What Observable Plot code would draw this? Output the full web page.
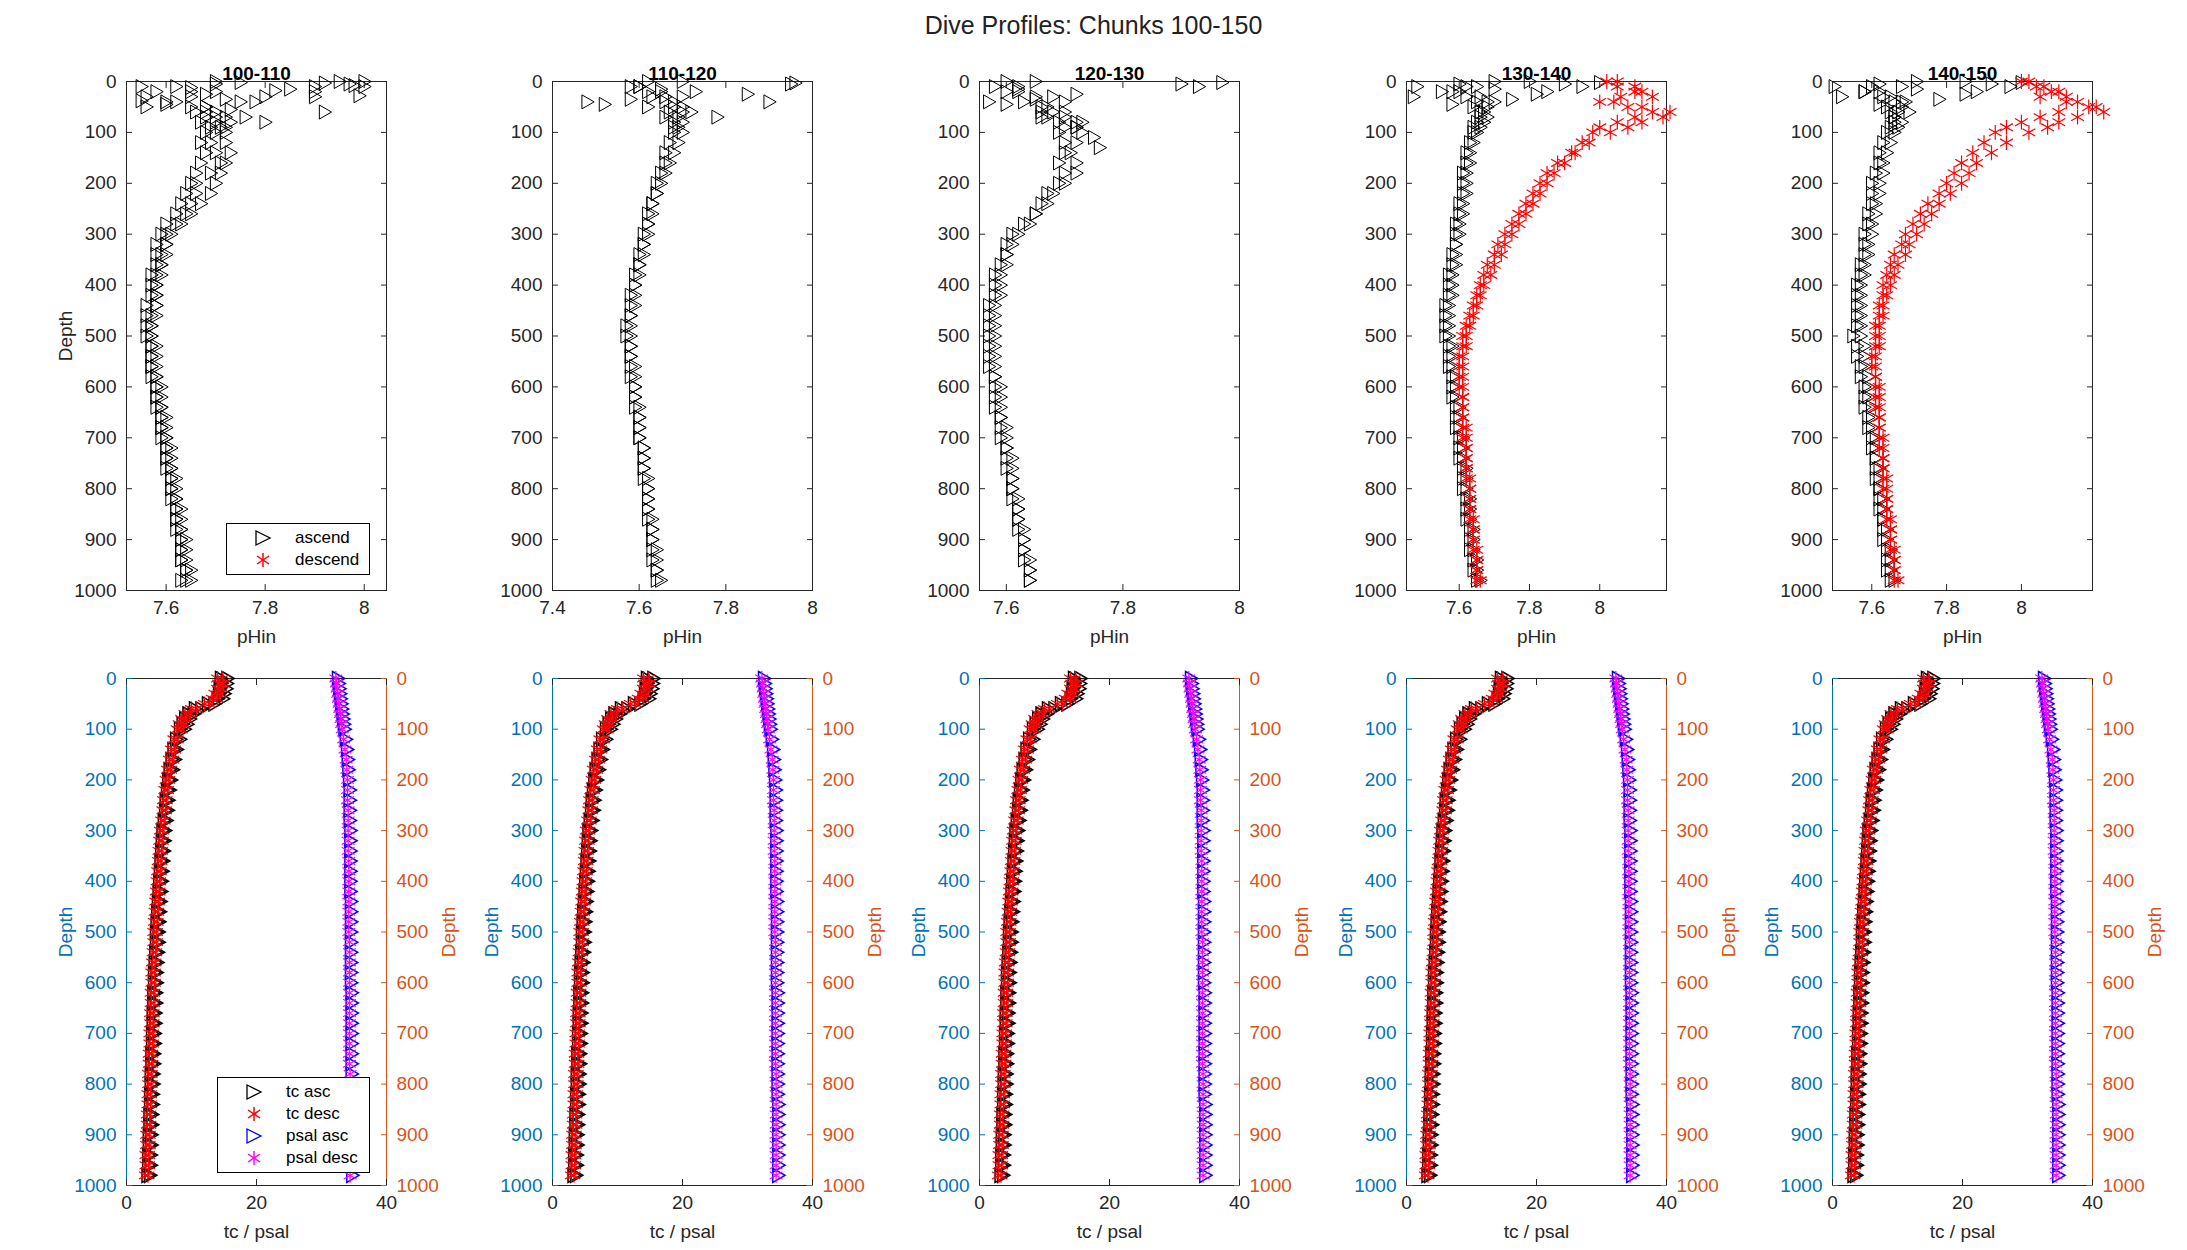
<!DOCTYPE html>
<html><head><meta charset="utf-8">
<script src="https://cdn.jsdelivr.net/npm/d3@7"></script>
<script src="https://cdn.jsdelivr.net/npm/@observablehq/plot@0.6"></script>
<style>
body{margin:0;background:#fff;font-family:"Liberation Sans",Arial,sans-serif;}
#wrap{position:relative;width:2187px;height:1250px;}
.abs{position:absolute;}
.leg{position:absolute;border:1px solid #000;background:#fff;font-size:17px;color:#000;}
.leg div{display:flex;align-items:center;height:22px;}
.leg svg{margin:0 22px 0 26px;}
</style></head><body><div id="wrap"></div>
<script>
const depths = [0,10,20,30,40,50,60,70,80,90,100,120,140,160,180,200,220,240,260,280,300,320,340,360,380,400,420,440,460,480,500,520,540,560,580,600,620,640,660,680,700,720,740,760,780,800,820,840,860,880,900,920,940,960,980];
const chunkLabels = ["100-110","110-120","120-130","130-140","140-150"];
const pHDomains = [[7.52,8.045],[7.4,8.0],[7.554,8.0],[7.45,8.19],[7.495,8.19]];
const pHTicks = [[7.6,7.8,8],[7.4,7.6,7.8,8],[7.6,7.8,8],[7.6,7.8,8],[7.6,7.8,8]];
const tcTicks = [0,20,40];
const depthTicks = [0,100,200,300,400,500,600,700,800,900,1000];

const asc1 = [
[7.95,7.62,7.58,7.56,7.60,7.65,7.68,7.70,7.70,7.71,7.72, 7.72,7.73,7.72,7.71,7.70, 7.69,7.67,7.65,7.63,7.61,7.60,7.60,7.59,7.59,7.58, 7.58,7.58,7.57,7.57,7.57,7.57,7.57,7.57,7.58,7.58, 7.58,7.59,7.59,7.59,7.59,7.60,7.60,7.60,7.61,7.61, 7.61,7.62,7.62,7.62,7.63,7.63,7.63,7.64,7.64],
[8.00,7.90,7.70,7.65,7.62,7.68,7.70,7.72,7.73,7.72,7.70, 7.69,7.68,7.67,7.66,7.65, 7.64,7.63,7.62,7.60,7.59,7.58,7.58,7.58,7.57,7.57, 7.57,7.56,7.56,7.56,7.56,7.57,7.57,7.57,7.57,7.58, 7.58,7.58,7.59,7.59,7.60,7.60,7.60,7.61,7.61,7.61, 7.62,7.62,7.62,7.63,7.63,7.63,7.63,7.64,7.63],
[7.70,7.55,7.65,7.80,7.75,7.68,7.66,7.68,7.67,7.69,7.68, 7.67,7.70,7.71,7.69,7.66, 7.66,7.65,7.64,7.62,7.60,7.60,7.59,7.59,7.58,7.58, 7.58,7.58,7.58,7.57,7.57,7.58,7.58,7.58,7.58,7.59, 7.59,7.59,7.60,7.60,7.60,7.61,7.61,7.61,7.62,7.62, 7.62,7.63,7.63,7.63,7.64,7.64,7.64,7.65,7.65]];
const asc2 = [
[7.62,7.60,7.65,7.63,7.66,7.68,7.70,7.69,7.70,7.68,7.68, 7.67,7.66,7.66,7.65,7.64, 7.64,7.63,7.63,7.62,7.62,7.61,7.61,7.60,7.60,7.59, 7.59,7.59,7.58,7.58,7.58,7.58,7.58,7.59,7.59,7.59, 7.59,7.60,7.60,7.60,7.60,7.61,7.61,7.61,7.61,7.62, 7.62,7.62,7.62,7.63,7.63,7.63,7.63,7.64,7.64],
[7.70,7.58,7.62,7.66,7.68,7.70,7.67,7.66,7.68,7.69,7.70, 7.69,7.68,7.67,7.66,7.65, 7.64,7.63,7.62,7.62,7.61,7.61,7.60,7.60,7.59,7.59, 7.58,7.58,7.58,7.57,7.57,7.58,7.58,7.58,7.58,7.59, 7.59,7.59,7.60,7.60,7.60,7.61,7.61,7.61,7.62,7.62, 7.62,7.62,7.63,7.63,7.63,7.64,7.64,7.64,7.65]];
const asc3 = [
[7.60,7.58,7.62,7.65,7.63,7.66,7.68,7.70,7.72,7.70,7.69, 7.70,7.71,7.72,7.70,7.69, 7.68,7.67,7.65,7.64,7.62,7.61,7.60,7.60,7.59,7.59, 7.59,7.58,7.58,7.58,7.58,7.58,7.58,7.58,7.58,7.59, 7.59,7.59,7.59,7.60,7.60,7.60,7.61,7.61,7.61,7.61, 7.62,7.62,7.62,7.63,7.63,7.63,7.64,7.64,7.64],
[7.65,7.62,7.60,7.68,7.70,7.67,7.66,7.67,7.69,7.72,7.73, 7.72,7.70,7.69,7.72,7.70, 7.67,7.66,7.65,7.63,7.61,7.60,7.60,7.59,7.58,7.58, 7.58,7.57,7.57,7.57,7.57,7.57,7.57,7.57,7.58,7.58, 7.58,7.58,7.59,7.59,7.59,7.60,7.60,7.60,7.61,7.61, 7.61,7.62,7.62,7.62,7.63,7.63,7.63,7.64,7.64]];
const asc4 = [
[7.70,7.62,7.60,7.66,7.68,7.64,7.66,7.66,7.65,7.64,7.64, 7.63,7.62,7.62,7.61,7.61, 7.61,7.60,7.60,7.59,7.59,7.59,7.58,7.58,7.57,7.57, 7.57,7.56,7.56,7.56,7.56,7.57,7.57,7.57,7.58,7.58, 7.58,7.59,7.59,7.59,7.60,7.60,7.60,7.61,7.61,7.61, 7.62,7.62,7.62,7.63,7.63,7.63,7.64,7.64,7.65],
[7.80,7.65,7.58,7.62,7.70,7.68,7.67,7.68,7.67,7.66,7.65, 7.64,7.63,7.63,7.62,7.62, 7.62,7.61,7.61,7.60,7.60,7.59,7.59,7.59,7.58,7.58, 7.58,7.57,7.57,7.57,7.57,7.58,7.58,7.58,7.59,7.59, 7.59,7.60,7.60,7.60,7.61,7.61,7.61,7.62,7.62,7.62, 7.63,7.63,7.63,7.64,7.64,7.64,7.65,7.65,7.66]];
const asc5 = [
[7.72,7.60,7.62,7.65,7.66,7.64,7.65,7.66,7.66,7.65,7.64, 7.63,7.62,7.62,7.61,7.60, 7.60,7.60,7.59,7.59,7.58,7.58,7.58,7.57,7.57,7.56, 7.56,7.56,7.56,7.56,7.55,7.56,7.56,7.57,7.57,7.58, 7.58,7.58,7.59,7.59,7.60,7.60,7.61,7.61,7.61,7.62, 7.62,7.62,7.63,7.63,7.63,7.64,7.64,7.64,7.65],
[7.85,7.68,7.58,7.63,7.69,7.68,7.67,7.66,7.68,7.67,7.66, 7.65,7.64,7.63,7.63,7.62, 7.62,7.61,7.61,7.60,7.60,7.59,7.59,7.58,7.58,7.57, 7.57,7.57,7.57,7.57,7.57,7.58,7.58,7.58,7.59,7.59, 7.59,7.60,7.60,7.60,7.61,7.61,7.61,7.62,7.62,7.62, 7.63,7.63,7.63,7.64,7.64,7.65,7.65,7.65,7.66]];
const desc4 = [
[8.05,8.10,8.12,8.15,8.00,8.08,8.20,8.18,8.12,8.08,8.03, 7.97,7.93,7.90,7.87,7.85, 7.83,7.81,7.79,7.77,7.75,7.73,7.72,7.70,7.69,7.67, 7.66,7.65,7.64,7.63,7.62,7.62,7.61,7.61,7.61,7.61, 7.61,7.61,7.61,7.62,7.62,7.62,7.62,7.62,7.63,7.63, 7.63,7.63,7.64,7.64,7.64,7.65,7.65,7.65,7.66],
[8.02,8.05,8.10,8.06,8.04,8.12,8.15,8.10,8.05,8.00,7.98, 7.95,7.92,7.88,7.85,7.83, 7.81,7.79,7.77,7.75,7.73,7.71,7.70,7.68,7.67,7.66, 7.65,7.64,7.63,7.62,7.61,7.61,7.60,7.60,7.60,7.60, 7.61,7.61,7.61,7.61,7.61,7.62,7.62,7.62,7.62,7.63, 7.63,7.63,7.63,7.64,7.64,7.64,7.65,7.65,7.65]];
const desc5 = [
[8.02,8.06,8.10,8.05,8.12,8.18,8.22,8.15,8.10,8.07,8.02, 7.96,7.92,7.88,7.86,7.84, 7.81,7.78,7.76,7.74,7.72,7.70,7.69,7.67,7.66,7.65, 7.64,7.63,7.63,7.62,7.62,7.62,7.61,7.61,7.61,7.62, 7.62,7.62,7.62,7.62,7.63,7.63,7.63,7.63,7.64,7.64, 7.64,7.64,7.65,7.65,7.65,7.66,7.66,7.66,7.67],
[8.00,8.04,8.08,8.12,8.15,8.20,8.10,8.05,8.00,7.96,7.93, 7.90,7.87,7.84,7.82,7.80, 7.78,7.75,7.73,7.71,7.69,7.68,7.66,7.65,7.64,7.63, 7.63,7.62,7.62,7.61,7.61,7.61,7.60,7.60,7.61,7.61, 7.61,7.61,7.62,7.62,7.62,7.62,7.63,7.63,7.63,7.63, 7.64,7.64,7.64,7.65,7.65,7.65,7.66,7.66,7.66]];
const surf1 = [[5,7.97],[10,8.0],[3,7.92],[20,7.90],[15,7.85],[30,7.9],[40,7.78],[60,7.92],[70,7.76],[80,7.8],[35,7.72],[25,7.68],[45,7.6],[50,7.56],[5,7.7],[12,7.65],[18,7.82],[8,7.98],[28,7.99],[55,7.73],[2,7.75],[38,7.55]];
const surf2 = [[40,7.48],[45,7.52],[10,7.6],[30,7.7],[20,7.73],[5,7.95],[3,7.96],[25,7.85],[40,7.90],[70,7.78],[60,7.72],[15,7.65],[50,7.62],[35,7.58]];
const surf3 = [[5,7.90],[2,7.97],[10,7.93],[25,7.72],[35,7.65],[45,7.6],[40,7.57],[15,7.62],[70,7.66],[80,7.73],[90,7.72],[130,7.76],[110,7.75],[60,7.70]];
const surf4 = [[10,7.48],[30,7.47],[20,7.55],[5,7.60],[15,7.7],[40,7.65],[25,7.82],[5,7.9],[10,7.95],[20,7.85],[2,8.0],[35,7.75],[45,7.58]];
const surf5 = [[10,7.50],[30,7.52],[20,7.58],[5,7.62],[15,7.72],[40,7.68],[25,7.85],[5,7.92],[10,7.97],[20,7.88],[2,8.0],[35,7.78],[45,7.62],[60,7.70]];

const tcAsc = [
[14.5,14.5,14.3,14.2,14.0,12.5,10.5,9.5,9.0,8.6,8.2, 7.6,7.2,6.9,6.6,6.4, 6.2,6.0,5.9,5.7,5.5,5.4,5.3,5.2,5.1,5.0, 4.9,4.8,4.7,4.6,4.5,4.5,4.4,4.3,4.2,4.2, 4.1,4.1,4.0,4.0,3.9,3.9,3.8,3.8,3.7,3.7, 3.6,3.6,3.5,3.5,3.4,3.4,3.3,3.3,3.2],
[15.5,15.4,15.3,15.0,14.8,13.5,11.5,10.3,9.7,9.3,8.9, 8.2,7.7,7.4,7.1,6.8, 6.6,6.4,6.3,6.1,5.9,5.8,5.7,5.6,5.5,5.4, 5.3,5.2,5.1,5.0,4.9,4.9,4.8,4.7,4.6,4.6, 4.5,4.5,4.4,4.4,4.3,4.3,4.2,4.2,4.1,4.1, 4.0,4.0,3.9,3.9,3.8,3.8,3.7,3.7,3.6]];
const tcDesc = [
[14.0,14.2,14.0,13.6,13.2,12.0,10.0,9.0,8.5,8.1,7.8, 7.3,6.9,6.6,6.3,6.1, 5.9,5.7,5.6,5.4,5.2,5.1,5.0,4.9,4.8,4.7, 4.6,4.5,4.4,4.3,4.2,4.2,4.1,4.0,3.9,3.9, 3.8,3.8,3.7,3.7,3.6,3.6,3.5,3.5,3.4,3.4, 3.3,3.3,3.2,3.2,3.1,3.1,3.0,3.0,2.9],
[14.8,14.9,14.7,14.4,14.0,12.8,10.8,9.8,9.2,8.8,8.4, 7.8,7.4,7.1,6.8,6.5, 6.3,6.1,6.0,5.8,5.6,5.5,5.4,5.3,5.2,5.1, 5.0,4.9,4.8,4.7,4.6,4.6,4.5,4.4,4.3,4.3, 4.2,4.2,4.1,4.1,4.0,4.0,3.9,3.9,3.8,3.8, 3.7,3.7,3.6,3.6,3.5,3.5,3.4,3.4,3.3]];
const psalAsc = [32.5,32.6,32.7,32.8,32.9,33.0,33.1,33.2,33.3,33.4,33.5, 33.7,33.9,34.0,34.1,34.2, 34.3,34.3,34.3,34.3,34.4,34.4,34.4,34.4,34.4,34.4, 34.4,34.5,34.5,34.5,34.5,34.5,34.5,34.5,34.5,34.5, 34.6,34.6,34.6,34.6,34.6,34.6,34.6,34.6,34.6,34.6, 34.6,34.7,34.7,34.7,34.7,34.7,34.7,34.7,34.7];
const psalDesc = [32.2,32.3,32.4,32.5,32.6,32.7,32.8,32.9,33.0,33.1,33.2, 33.4,33.6,33.8,33.9,34.0, 34.0,34.0,34.1,34.1,34.1,34.1,34.1,34.2,34.2,34.2, 34.2,34.2,34.2,34.2,34.2,34.3,34.3,34.3,34.3,34.3, 34.3,34.3,34.3,34.3,34.3,34.3,34.3,34.3,34.4,34.4, 34.4,34.4,34.4,34.4,34.4,34.4,34.4,34.4,34.4];

const ascAll = [asc1,asc2,asc3,asc4,asc5];
const descAll = [[],[],[],desc4,desc5];
const surfAll = [surf1,surf2,surf3,surf4,surf5];
const panelLeft = [126,552,979,1406,1832];

const triRight = {draw(c,size){const r=Math.sqrt(size/Math.PI);c.moveTo(-r*0.75,-r);c.lineTo(r,0);c.lineTo(-r*0.75,r);c.closePath();}};
const toPts = (profiles) => profiles.flatMap(p => p.map((v,i)=>({x:v,d:depths[i]})));
const wrap = document.getElementById("wrap");
const font = "Liberation Sans, Arial, sans-serif";
const BLUE="#0072BD", ORANGE="#D95319";
const fmt = d => String(d);

const title = document.createElement("div");
title.className="abs"; title.style.cssText="left:0;width:2187px;top:11px;text-align:center;font-size:25px;color:#222;";
title.textContent="Dive Profiles: Chunks 100-150"; wrap.appendChild(title);

for (let k=0;k<5;k++){
  const ascPts = toPts(ascAll[k]).concat(surfAll[k].map(([d,x])=>({x,d})));
  const descPts = toPts(descAll[k]);
  const top = Plot.plot({
    width: 260+80+40, height: 81+509+70,
    marginLeft:80, marginRight:40, marginTop:81, marginBottom:70,
    style:{fontFamily:font,fontSize:"19px",color:"#262626",background:"transparent"},
    x:{domain:pHDomains[k]},
    y:{domain:[0,1000], reverse:true},
    marks:[
      Plot.frame({stroke:"#262626"}),
      Plot.axisX({anchor:"bottom", ticks:pHTicks[k], tickSize:-6, tickPadding:16, tickFormat:fmt, label:"pHin", labelAnchor:"center", labelOffset:52, labelArrow:false}),
      Plot.axisX({anchor:"top", ticks:pHTicks[k], tickSize:-6, tickFormat:()=>"", label:null}),
      Plot.axisY({anchor:"left", ticks:depthTicks, tickSize:-6, tickPadding:16, tickFormat:fmt, label:k===0?"Depth":null, labelAnchor:"center", labelOffset:68, labelArrow:false}),
      Plot.axisY({anchor:"right", ticks:depthTicks, tickSize:-6, tickFormat:()=>"", label:null}),
      Plot.dot(ascPts,{x:"x",y:"d",symbol:triRight,r:7,stroke:"#000",strokeWidth:1,fill:"none"}),
      Plot.dot(descPts,{x:"x",y:"d",symbol:"asterisk",r:7,stroke:"#f00",strokeWidth:1.2}),
      Plot.text([chunkLabels[k]],{frameAnchor:"top",dy:-15,fontWeight:"bold",fontSize:19,fill:"#000"})
    ]
  });
  top.classList.add("abs"); top.style.left=(panelLeft[k]-80)+"px"; top.style.top="0px"; wrap.appendChild(top);

  const bottom = Plot.plot({
    width: 260+80+80, height: 58+507+65,
    marginLeft:80, marginRight:80, marginTop:58, marginBottom:65,
    style:{fontFamily:font,fontSize:"19px",color:"#262626",background:"transparent"},
    x:{domain:[0,40]},
    y:{domain:[0,1000], reverse:true},
    marks:[
      Plot.ruleY([0,1000],{stroke:"#262626"}),
      Plot.ruleX([0],{stroke:BLUE}),
      Plot.ruleX([40],{stroke:ORANGE}),
      Plot.axisX({anchor:"bottom", ticks:tcTicks, tickSize:-6, tickPadding:16, tickFormat:fmt, label:"tc / psal", labelAnchor:"center", labelOffset:52, labelArrow:false}),
      Plot.axisX({anchor:"top", ticks:tcTicks, tickSize:-6, tickFormat:()=>"", label:null}),
      Plot.axisY({anchor:"left", ticks:depthTicks, tickSize:-6, tickPadding:16, tickFormat:fmt, color:BLUE, label:"Depth", labelAnchor:"center", labelOffset:68, labelArrow:false}),
      Plot.axisY({anchor:"right", ticks:depthTicks, tickSize:-6, tickPadding:16, tickFormat:fmt, color:ORANGE, label:"Depth", labelAnchor:"center", labelOffset:68, labelArrow:false}),
      Plot.dot(toPts(tcAsc),{x:"x",y:"d",symbol:triRight,r:7,stroke:"#000",fill:"none"}),
      Plot.dot(toPts(tcDesc),{x:"x",y:"d",symbol:"asterisk",r:7,stroke:"#f00",strokeWidth:1.2}),
      Plot.dot(toPts([psalAsc]),{x:"x",y:"d",symbol:triRight,r:7,stroke:"#00f",fill:"none"}),
      Plot.dot(toPts([psalDesc]),{x:"x",y:"d",symbol:"asterisk",r:7,stroke:"#f0f",strokeWidth:1.2})
    ]
  });
  bottom.classList.add("abs"); bottom.style.left=(panelLeft[k]-80)+"px"; bottom.style.top="620px"; wrap.appendChild(bottom);
}

function legend(left,top,w,items){
  const el=document.createElement("div"); el.className="leg";
  el.style.left=left+"px"; el.style.top=top+"px"; el.style.width=w+"px"; el.style.padding="3px 0";
  for(const [sym,col,lab] of items){
    const row=document.createElement("div");
    const s = sym==="tri" ? `<polygon points="3,2 17,9 3,16" fill="none" stroke="${col}" stroke-width="1.3"/>`
      : `<g stroke="${col}" stroke-width="1.5"><line x1="10" y1="2" x2="10" y2="16"/><line x1="4" y1="5" x2="16" y2="13"/><line x1="4" y1="13" x2="16" y2="5"/></g>`;
    row.innerHTML=`<svg width="20" height="18">${s}</svg><span>${lab}</span>`;
    el.appendChild(row);
  }
  wrap.appendChild(el);
}
legend(226,523,142,[["tri","#000","ascend"],["ast","#f00","descend"]]);
legend(217,1077,151,[["tri","#000","tc asc"],["ast","#f00","tc desc"],["tri","#00f","psal asc"],["ast","#f0f","psal desc"]]);
</script></body></html>
